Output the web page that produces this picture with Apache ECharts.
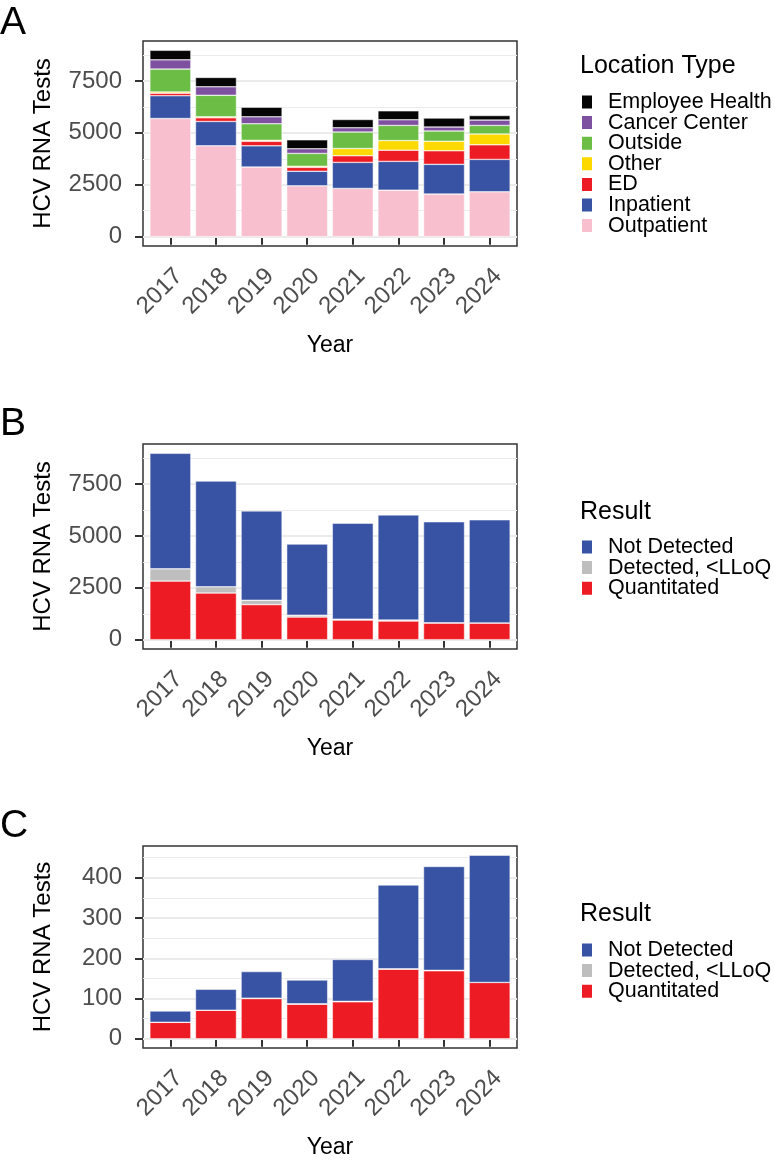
<!DOCTYPE html>
<html>
<head>
<meta charset="utf-8">
<script src="https://cdn.jsdelivr.net/npm/echarts@6/dist/echarts.min.js"></script>
<style>
  html, body { margin: 0; padding: 0; background: #fff; }
  #chart { width: 775px; height: 1160px; }
</style>
</head>
<body>
<div id="chart"></div>
<script>
// years on the x axis (shared by all three panels)
const years = ['2017', '2018', '2019', '2020', '2021', '2022', '2023', '2024']

// panel A - tests by location type
const outpatient = [5690, 4375, 3354, 2448, 2323, 2242, 2052, 2161]
const inpatient = [1100, 1174, 1021, 701, 1255, 1384, 1431, 1560]
const ed = [120, 175, 217, 190, 320, 539, 654, 702]
const other = [60, 50, 50, 50, 348, 463, 457, 524]
const outside = [1100, 1035, 797, 621, 795, 730, 497, 411]
const cancerCenter = [445, 410, 334, 224, 207, 272, 191, 257]
const employeeHealth = [460, 450, 462, 429, 396, 429, 429, 220]

// panel B - results, all tests
const bQuantitated = [2824, 2250, 1690, 1090, 945, 900, 800, 800]
const bDetected = [590, 300, 210, 90, 45, 45, 15, 10]
const bNotDetected = [5570, 5095, 4308, 3430, 4625, 5070, 4870, 4970]

// panel C - results, smaller subset
const cQuantitated = [41, 71, 100, 86, 92, 173, 169, 140]
const cDetected = [0, 0, 1, 1, 1, 1, 1, 0]
const cNotDetected = [28, 52, 66, 59, 104, 208, 258, 316]

// y ticks
const ticksAB = [0, 2500, 5000, 7500]
const minorAB = [1250, 3750, 6250, 8750]
const ticksC = [0, 100, 200, 300, 400]
const minorC = [50, 150, 250, 350, 450]

const FONT = 'Liberation Sans, Arial, Helvetica, sans-serif'
const colors = {
  'Employee Health': '#050505',
  'Cancer Center': '#7e50a0',
  'Outside': '#6cbd45',
  'Other': '#fdd900',
  'ED': '#ed1c24',
  'Inpatient': '#3953a4',
  'Outpatient': '#f8c0ce',
  'Not Detected': '#3953a4',
  'Detected, <LLoQ': '#bebebe',
  'Quantitated': '#ed1c24'
}

const xPos = years.map((y, i) => i + 1)
const chart = echarts.init(document.getElementById('chart'))

const panels = [
  { top: 41, height: 205, ticks: ticksAB, minor: minorAB,
    series: [['Outpatient', outpatient], ['Inpatient', inpatient], ['ED', ed], ['Other', other],
      ['Outside', outside], ['Cancer Center', cancerCenter], ['Employee Health', employeeHealth]] },
  { top: 444, height: 205, ticks: ticksAB, minor: minorAB,
    series: [['Quantitated', bQuantitated], ['Detected, <LLoQ', bDetected], ['Not Detected', bNotDetected]] },
  { top: 846, height: 207, ticks: ticksC, minor: minorC,
    series: [['Quantitated', cQuantitated], ['Detected, <LLoQ', cDetected], ['Not Detected', cNotDetected]] }
]

function totalMax(list) {
  return Math.max(...years.map((y, i) => list.reduce((s, d) => s + d[1][i], 0)))
}

const grid = []
const xAxis = []
const yAxis = []
const series = []

panels.forEach((p, k) => {
  const top = totalMax(p.series)
  grid.push({
    left: 143, right: 258, top: p.top, height: p.height,
    show: true, borderColor: '#333', borderWidth: 1.5, backgroundColor: '#fff'
  })
  xAxis.push({
    type: 'value', gridIndex: k, min: 0.4, max: 8.6,
    name: 'Year', nameLocation: 'middle', nameGap: 88,
    nameTextStyle: { fontFamily: FONT, fontSize: 23, color: '#000' },
    axisLine: { show: false },
    splitLine: { show: false },
    axisTick: { show: true, customValues: xPos, length: 8, lineStyle: { color: '#333', width: 2 } },
    axisLabel: {
      customValues: xPos, formatter: v => years[v - 1], rotate: 45, margin: 18,
      verticalAlign: 'top',
      fontFamily: FONT, fontSize: 24, color: '#4d4d4d'
    }
  })
  yAxis.push({
    type: 'value', gridIndex: k, min: -0.05 * top, max: 1.05 * top,
    name: 'HCV RNA Tests', nameLocation: 'middle', nameGap: 88,
    nameTextStyle: { fontFamily: FONT, fontSize: 24, color: '#000' },
    axisLine: { show: false },
    splitLine: { show: false },
    axisTick: { show: true, customValues: p.ticks, length: 8, lineStyle: { color: '#333', width: 2 } },
    axisLabel: {
      customValues: p.ticks, formatter: v => String(v), margin: 21,
      fontFamily: FONT, fontSize: 24, color: '#4d4d4d'
    }
  })
  p.series.forEach((s, j) => {
    // value column first so the stack runs along y
    const item = {
      type: 'bar', name: s[0], stack: 'p' + k, xAxisIndex: k, yAxisIndex: k,
      barWidth: 41, z: 2,
      encode: { x: 1, y: 0 },
      itemStyle: { color: colors[s[0]], borderColor: '#fff', borderWidth: 0.5 },
      data: s[1].map((v, i) => [v, i + 1])
    }
    if (j === 0) {
      item.markLine = {
        silent: true, symbol: ['none', 'none'], z: 1, animation: false,
        label: { show: false },
        lineStyle: { color: '#ebebeb', type: 'solid' },
        data: p.ticks.map(v => ({ yAxis: v, lineStyle: { width: 2 } }))
          .concat(p.minor.map(v => ({ yAxis: v, lineStyle: { width: 1.2 } })))
      }
    }
    series.push(item)
  })
})

const legendBase = {
  orient: 'vertical', left: 580, padding: 0, itemGap: -1.4,
  itemWidth: 12, itemHeight: 15, icon: 'rect', selectedMode: false,
  textStyle: { fontFamily: FONT, fontSize: 21.5, color: '#000', lineHeight: 20, padding: [0, 0, 0, 10] }
}

const titleStyle = { fontFamily: FONT, fontWeight: 'normal', color: '#000' }

chart.setOption({
  animation: false,
  title: [
    { text: 'A', left: 0, top: 4, padding: 0, textStyle: { ...titleStyle, fontSize: 39 } },
    { text: 'B', left: 0, top: 405, padding: 0, textStyle: { ...titleStyle, fontSize: 39 } },
    { text: 'C', left: 0, top: 807, padding: 0, textStyle: { ...titleStyle, fontSize: 39 } },
    { text: 'Location Type', left: 580, top: 54, padding: 0, textStyle: { ...titleStyle, fontSize: 25 } },
    { text: 'Result', left: 580, top: 500, padding: 0, textStyle: { ...titleStyle, fontSize: 25 } },
    { text: 'Result', left: 580, top: 902, padding: 0, textStyle: { ...titleStyle, fontSize: 25 } }
  ],
  legend: [
    { ...legendBase, top: 91,
      data: ['Employee Health', 'Cancer Center', 'Outside', 'Other', 'ED', 'Inpatient', 'Outpatient'] },
    { ...legendBase, top: 536, data: ['Not Detected', 'Detected, <LLoQ', 'Quantitated'] },
    { ...legendBase, top: 939, data: ['Not Detected', 'Detected, <LLoQ', 'Quantitated'] }
  ],
  grid: grid,
  xAxis: xAxis,
  yAxis: yAxis,
  series: series
})
</script>
</body>
</html>
